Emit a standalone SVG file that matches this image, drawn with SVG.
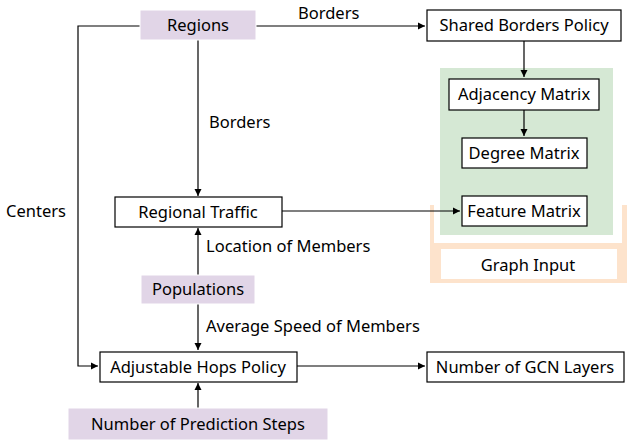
<svg xmlns="http://www.w3.org/2000/svg" width="640" height="441" viewBox="0 0 640 441">
<defs><marker id="a" markerWidth="8" markerHeight="8" refX="7" refY="4" orient="auto" markerUnits="userSpaceOnUse"><path d="M0,0.5 L7,4 L0,7.5 z" fill="#000"/></marker></defs>
<style>
text{font-family:"Noto Sans","DejaVu Sans",sans-serif;font-size:16.5px;fill:#000}
.w{fill:#fff;stroke:#000;stroke-width:1.2}
.p{fill:#e1d5e7;stroke:#fff;stroke-width:1}
.c{fill:none;stroke:#000;stroke-width:1.2;marker-end:url(#a)}
</style>
<rect x="0" y="0" width="640" height="441" fill="#fff"/>
<g id="graphinput"><rect x="430" y="205" width="197" height="78" fill="#fde3cc"/><rect x="434" y="205" width="188" height="38" fill="#fff"/><rect x="441" y="249" width="176" height="30" fill="#fff"/><text x="528" y="271" text-anchor="middle">Graph Input</text></g>
<rect id="green" x="440" y="68" width="173" height="167" fill="#d5e8d4"/>
<g id="connectors">
<path class="c" d="M256,26 L425,26"/>
<path class="c" d="M198,40 L198,196"/>
<path class="c" d="M140,26 L78,26 L78,366 L98,366"/>
<path class="c" d="M524,41 L524,77"/>
<path class="c" d="M524,110 L524,136"/>
<path class="c" d="M282,211 L460,211"/>
<path class="c" d="M198,275 L198,228"/>
<path class="c" d="M198,304 L198,350"/>
<path class="c" d="M297,366 L425,366"/>
<path class="c" d="M198,408 L198,383"/>
</g>
<text x="298" y="19">Borders</text>
<text x="209" y="128">Borders</text>
<text x="6" y="217">Centers</text>
<text x="206" y="252">Location of Members</text>
<text x="206" y="332">Average Speed of Members</text>
<g id="regions"><rect class="p" x="140" y="10" width="116" height="30"/><text x="198" y="31" text-anchor="middle">Regions</text></g>
<g id="shared"><rect class="w" x="427" y="10" width="194" height="31"/><text x="524" y="31" text-anchor="middle">Shared Borders Policy</text></g>
<g id="adj"><rect class="w" x="449" y="79" width="150" height="31"/><text x="524" y="100" text-anchor="middle">Adjacency Matrix</text></g>
<g id="deg"><rect class="w" x="462" y="138" width="125" height="30"/><text x="524" y="159" text-anchor="middle">Degree Matrix</text></g>
<g id="feat"><rect class="w" x="462" y="196" width="125" height="30"/><text x="524" y="217" text-anchor="middle">Feature Matrix</text></g>
<g id="traffic"><rect class="w" x="115" y="197" width="167" height="30"/><text x="198" y="218" text-anchor="middle">Regional Traffic</text></g>
<g id="pop"><rect class="p" x="141" y="275" width="114" height="29"/><text x="198" y="295" text-anchor="middle">Populations</text></g>
<g id="hops"><rect class="w" x="100" y="352" width="197" height="30"/><text x="198" y="373" text-anchor="middle">Adjustable Hops Policy</text></g>
<g id="gcn"><rect class="w" x="427" y="352" width="197" height="30"/><text x="525" y="373" text-anchor="middle">Number of GCN Layers</text></g>
<g id="steps"><rect class="p" x="68" y="408" width="260" height="32"/><text x="198" y="430" text-anchor="middle">Number of Prediction Steps</text></g>
</svg>
